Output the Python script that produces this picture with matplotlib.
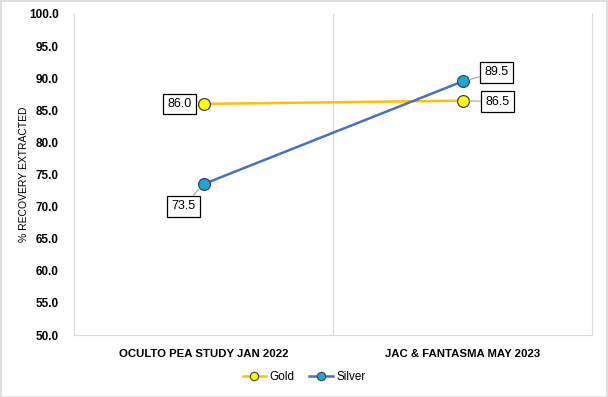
import matplotlib
matplotlib.use("Agg")
import matplotlib.pyplot as plt
from matplotlib.patches import Rectangle
from matplotlib.lines import Line2D

categories = ["OCULTO PEA STUDY JAN 2022", "JAC & FANTASMA MAY 2023"]
gold = [86.0, 86.5]
silver = [73.5, 89.5]
yticks = [50.0, 55.0, 60.0, 65.0, 70.0, 75.0, 80.0, 85.0, 90.0, 95.0, 100.0]

plt.rcParams['font.family'] = ['Liberation Sans', 'DejaVu Sans']

fig = plt.figure(figsize=(6.08, 3.97), dpi=100)
ax = fig.add_axes([74/608, 1-335/397, (592-74)/608, (335-14)/397])

gold_c, gold_f = '#FFC000', '#FFFF00'
silv_c, silv_f = '#4472C4', '#1AA7E0'
x = [0, 1]
ax.plot(x, gold, color=gold_c, lw=1.8, marker='o', ms=8.5,
        mfc=gold_f, mec='#404040', mew=0.9, zorder=3)
ax.plot(x, silver, color=silv_c, lw=1.8, marker='o', ms=8.5,
        mfc=silv_f, mec='#404040', mew=0.9, zorder=3)

ax.set_xlim(-0.5, 1.5)
ax.set_ylim(50, 100)
ax.set_yticks(yticks)
ax.set_yticklabels([f"{v:.1f}" for v in yticks], fontsize=8.5, fontweight='bold')
ax.set_xticks(x)
ax.set_xticklabels(categories, fontsize=8.2, fontweight='bold')
ax.tick_params(length=0, pad=11)
ax.tick_params(axis='x', pad=10)
for s in ax.spines.values():
    s.set_color('#D9D9D9')
ax.spines['top'].set_visible(False)
ax.axvline(0.5, color='#D9D9D9', lw=0.8, zorder=0)
ax.set_ylabel('% RECOVERY EXTRACTED', fontsize=7.5)
ax.yaxis.set_label_coords((29 - 74) / 518, 0.5)

bbox = dict(boxstyle='square,pad=0.35', fc='white', ec='black', lw=0.9)
arrow = dict(arrowstyle='-', color='#A6A6A6', lw=0.8, shrinkA=0, shrinkB=5)
labels = [
    (0, gold[0], (-24, 0)),
    (0, silver[0], (-20, -22)),
    (1, silver[1], (34, 9)),
    (1, gold[1], (35, -1)),
]
for xi, yi, off in labels:
    ax.annotate(f"{yi:.1f}", (xi, yi), xytext=off, textcoords='offset pixels',
                ha='center', va='center', fontsize=9, bbox=bbox,
                arrowprops=arrow, zorder=4)

handles = [
    Line2D([], [], color=gold_c, lw=1.8, marker='o', ms=6, mfc=gold_f, mec='#404040', mew=0.8),
    Line2D([], [], color=silv_c, lw=1.8, marker='o', ms=6, mfc=silv_f, mec='#404040', mew=0.8),
]
fig.legend(handles, ['Gold', 'Silver'], loc='center', bbox_to_anchor=(0.5, 1-377/397),
           ncol=2, frameon=False, fontsize=8.5, handlelength=2.0,
           columnspacing=1.2, handletextpad=0.3)

fig.add_artist(Rectangle((0.001, 0.001), 0.997, 0.997, transform=fig.transFigure,
                         fill=False, ec='#D9D9D9', lw=1.2))
fig.savefig('out.png', dpi=100)
